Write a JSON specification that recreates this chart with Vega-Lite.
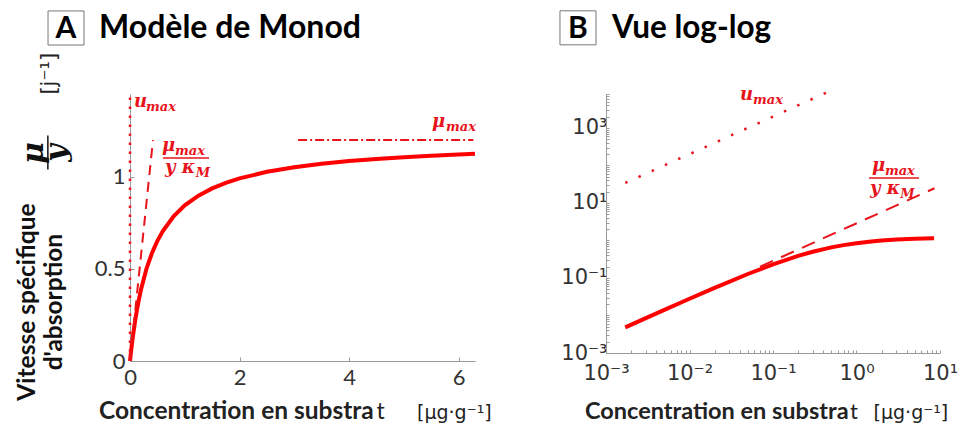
{
  "$schema": "https://vega.github.io/schema/vega-lite/v6.json",
  "padding": {"left": 14, "top": 10, "right": 0, "bottom": 0},
  "background": "white",
  "config": {"view": {"stroke": null}, "font": "Lato"},
  "bounds": "flush",
  "spacing": 131,
  "hconcat": [
    {
      "width": 345,
      "height": 267,
      "encoding": {
        "x": {"field": "x", "type": "quantitative", "scale": {"domain": [0, 6.3], "nice": false, "zero": false},
          "axis": {"title": null, "values": [0, 2, 4, 6], "format": "~g", "grid": false, "domainColor": "#9a9a9a", "tickColor": "#9a9a9a", "tickSize": -4, "labelPadding": 10, "labelFont": "Lato", "labelFontSize": 22, "labelColor": "#333333", "labelFlush": false, "labelOverlap": false}},
        "y": {"field": "y", "type": "quantitative", "scale": {"domain": [0, 1.45], "nice": false, "zero": false},
          "axis": {"title": null, "values": [0, 0.5, 1], "format": "~g", "grid": false, "domainColor": "#9a9a9a", "tickColor": "#9a9a9a", "tickSize": -4, "labelPadding": 9, "labelFont": "Lato", "labelFontSize": 22, "labelColor": "#333333", "labelFlush": false, "labelOverlap": false}}
      },
      "layer": [
        {"data": {"values": [{"x": 0, "y": 0}, {"x": 0.02, "y": 0.0545}, {"x": 0.05, "y": 0.1277}, {"x": 0.1, "y": 0.2308}, {"x": 0.15, "y": 0.3158}, {"x": 0.2, "y": 0.3871}, {"x": 0.3, "y": 0.5}, {"x": 0.4, "y": 0.5854}, {"x": 0.5, "y": 0.6522}, {"x": 0.6, "y": 0.7059}, {"x": 0.8, "y": 0.7869}, {"x": 1.0, "y": 0.8451}, {"x": 1.25, "y": 0.8982}, {"x": 1.5, "y": 0.9375}, {"x": 1.75, "y": 0.9677}, {"x": 2.0, "y": 0.9917}, {"x": 2.5, "y": 1.0274}, {"x": 3.0, "y": 1.0526}, {"x": 3.5, "y": 1.0714}, {"x": 4.0, "y": 1.086}, {"x": 4.5, "y": 1.0976}, {"x": 5.0, "y": 1.107}, {"x": 5.5, "y": 1.1149}, {"x": 6.0, "y": 1.1215}, {"x": 6.3, "y": 1.125}]},
          "mark": {"type": "line", "color": "#ff0000", "strokeWidth": 4}},
        {"data": {"values": [{"x": 0, "y": 0}, {"x": 0.42, "y": 1.2}]},
          "mark": {"type": "line", "color": "#e8141c", "strokeWidth": 2, "strokeDash": [10, 7]}},
        {"data": {"values": [{"x": 0, "y": 0}, {"x": 0.0000725, "y": 1.45}]},
          "mark": {"type": "line", "color": "#e8141c", "strokeWidth": 2.5, "strokeDash": [2.5, 6.5]}},
        {"data": {"values": [{"x": 3.07, "y": 1.2}, {"x": 6.27, "y": 1.2}]},
          "mark": {"type": "line", "color": "#e8141c", "strokeWidth": 2, "strokeDash": [9, 3, 2, 3]}},
        {"data": {"values": [{"x": 0.603, "x2": 1.443, "y": 1.103}]},
          "mark": {"type": "rule", "color": "#e8141c", "strokeWidth": 1.5},
          "encoding": {"x2": {"field": "x2"}}},
        {"data": {"values": [{"x": 0.073, "y": 1.38, "t": "u"}, {"x": 0.584, "y": 1.141, "t": "μ"}, {"x": 0.639, "y": 1.021, "t": "y κ"}, {"x": 5.515, "y": 1.271, "t": "μ"}]},
          "mark": {"type": "text", "align": "left", "baseline": "alphabetic", "font": "DejaVu Serif", "fontSize": 18, "fontWeight": "bold", "fontStyle": "italic", "color": "#e8141c"},
          "encoding": {"text": {"field": "t"}}},
        {"data": {"values": [{"x": 0.292, "y": 1.358, "t": "max"}, {"x": 0.822, "y": 1.119, "t": "max"}, {"x": 1.2, "y": 0.999, "t": "M"}, {"x": 5.771, "y": 1.249, "t": "max"}]},
          "mark": {"type": "text", "align": "left", "baseline": "alphabetic", "font": "DejaVu Serif", "fontSize": 13, "fontWeight": "bold", "fontStyle": "italic", "color": "#e8141c"},
          "encoding": {"text": {"field": "t"}}},
        {"data": {"values": [{"x": -1.497, "x2": -0.84, "y": 1.901, "y2": 1.716}]},
          "mark": {"type": "rect", "fill": "white", "stroke": "#777777", "strokeWidth": 1},
          "encoding": {"x2": {"field": "x2"}, "y2": {"field": "y2"}}},
        {"data": {"values": [{"x": -1.169, "y": 1.754, "t": "A"}]},
          "mark": {"type": "text", "align": "center", "baseline": "alphabetic", "fontSize": 30, "fontWeight": "bold", "color": "black"},
          "encoding": {"text": {"field": "t"}}},
        {"data": {"values": [{"x": -0.566, "y": 1.754, "t": "Modèle de Monod"}]},
          "mark": {"type": "text", "align": "left", "baseline": "alphabetic", "fontSize": 32, "fontWeight": "bold", "color": "black"},
          "encoding": {"text": {"field": "t"}}},
        {"data": {"values": [{"x": -0.566, "y": -0.315, "t": "Concentration en substra"}]},
          "mark": {"type": "text", "align": "left", "baseline": "alphabetic", "fontSize": 24.5, "fontWeight": "bold", "color": "#222222"},
          "encoding": {"text": {"field": "t"}}},
        {"data": {"values": [{"x": 4.5, "y": -0.315, "t": "t"}]},
          "mark": {"type": "text", "align": "left", "baseline": "alphabetic", "fontSize": 23, "color": "#222222"},
          "encoding": {"text": {"field": "t"}}},
        {"data": {"values": [{"x": 5.241, "y": -0.315, "t": "[μg·g⁻¹]"}]},
          "mark": {"type": "text", "align": "left", "baseline": "alphabetic", "font": "DejaVu Sans", "fontSize": 19, "color": "#222222"},
          "encoding": {"text": {"field": "t"}}},
        {"data": {"values": [{"x": -1.735, "y": 0.32, "t": "Vitesse spécifique"}, {"x": -1.242, "y": 0.32, "t": "d'absorption"}]},
          "mark": {"type": "text", "align": "center", "baseline": "alphabetic", "angle": 270, "fontSize": 24.5, "fontWeight": "bold", "color": "#111111"},
          "encoding": {"text": {"field": "t"}}},
        {"data": {"values": [{"x": -1.59, "y": 1.13, "t": "μ"}, {"x": -1.17, "y": 1.13, "t": "y"}]},
          "mark": {"type": "text", "align": "center", "baseline": "alphabetic", "angle": 270, "font": "DejaVu Serif", "fontSize": 30, "fontWeight": "bold", "fontStyle": "italic", "color": "#111111"},
          "encoding": {"text": {"field": "t"}}},
        {"data": {"values": [{"x": -1.5, "y": 1.225, "y2": 1.04}]},
          "mark": {"type": "rule", "color": "#111111", "strokeWidth": 1.5},
          "encoding": {"y2": {"field": "y2"}}},
        {"data": {"values": [{"x": -1.36, "y": 1.56, "t": "[j⁻¹]"}]},
          "mark": {"type": "text", "align": "center", "baseline": "alphabetic", "angle": 270, "font": "DejaVu Sans", "fontSize": 21, "color": "#222222"},
          "encoding": {"text": {"field": "t"}}}
      ]
    },
    {
      "width": 334,
      "height": 259,
      "encoding": {
        "x": {"field": "x", "type": "quantitative", "scale": {"type": "log", "domain": [0.001, 10], "nice": false},
          "axis": {"title": null, "values": [0.001, 0.002, 0.003, 0.004, 0.005, 0.006, 0.007, 0.008, 0.009, 0.01, 0.02, 0.03, 0.04, 0.05, 0.06, 0.07, 0.08, 0.09, 0.1, 0.2, 0.3, 0.4, 0.5, 0.6, 0.7, 0.8, 0.9, 1, 2, 3, 4, 5, 6, 7, 8, 9, 10],
            "labelExpr": "datum.value==0.001?'10⁻³':datum.value==0.01?'10⁻²':datum.value==0.1?'10⁻¹':datum.value==1?'10⁰':datum.value==10?'10¹':''",
            "grid": false, "domainColor": "#9a9a9a", "tickColor": "#9a9a9a", "tickSize": -3, "labelPadding": 12, "labelFont": "DejaVu Sans", "labelFontSize": 21, "labelColor": "#333333", "labelFlush": false, "labelOverlap": false}},
        "y": {"field": "y", "type": "quantitative", "scale": {"type": "log", "domain": [0.001, 8000], "nice": false},
          "axis": {"title": null, "values": [0.001, 0.002, 0.003, 0.004, 0.005, 0.006, 0.007, 0.008, 0.009, 0.01, 0.02, 0.03, 0.04, 0.05, 0.06, 0.07, 0.08, 0.09, 0.1, 0.2, 0.3, 0.4, 0.5, 0.6, 0.7, 0.8, 0.9, 1, 2, 3, 4, 5, 6, 7, 8, 9, 10, 20, 30, 40, 50, 60, 70, 80, 90, 100, 200, 300, 400, 500, 600, 700, 800, 900, 1000, 2000, 3000, 4000, 5000, 6000, 7000, 8000],
            "labelExpr": "datum.value==0.001?'10⁻³':datum.value==0.1?'10⁻¹':datum.value==10?'10¹':datum.value==1000?'10³':''",
            "grid": false, "domainColor": "#9a9a9a", "tickColor": "#9a9a9a", "tickSize": -3, "labelPadding": 2, "labelFont": "DejaVu Sans", "labelFontSize": 21, "labelColor": "#333333", "labelFlush": false, "labelOverlap": false}}
      },
      "layer": [
        {"data": {"values": [{"x": 0.0017, "y": 0.004837}, {"x": 0.003, "y": 0.008511}, {"x": 0.005, "y": 0.014118}, {"x": 0.01, "y": 0.027907}, {"x": 0.02, "y": 0.054545}, {"x": 0.05, "y": 0.12766}, {"x": 0.1, "y": 0.2308}, {"x": 0.2, "y": 0.3871}, {"x": 0.3, "y": 0.5}, {"x": 0.5, "y": 0.6522}, {"x": 0.7, "y": 0.75}, {"x": 1, "y": 0.8451}, {"x": 1.5, "y": 0.9375}, {"x": 2, "y": 0.9917}, {"x": 3, "y": 1.0526}, {"x": 5, "y": 1.107}, {"x": 8.5, "y": 1.1435}]},
          "mark": {"type": "line", "color": "#ff0000", "strokeWidth": 4}},
        {"data": {"values": [{"x": 0.07, "y": 0.2}, {"x": 8.6, "y": 24.57}]},
          "mark": {"type": "line", "color": "#e8141c", "strokeWidth": 2, "strokeDash": [14, 9]}},
        {"data": {"values": [{"x": 0.0017, "y": 34}, {"x": 0.48, "y": 9600}]},
          "mark": {"type": "line", "color": "#e8141c", "strokeWidth": 2.5, "strokeDash": [2.5, 12]}},
        {"data": {"values": [{"x": 1.413, "x2": 5.604, "y": 46.4}]},
          "mark": {"type": "rule", "color": "#e8141c", "strokeWidth": 1.5},
          "encoding": {"x2": {"field": "x2"}}},
        {"data": {"values": [{"x": 0.0403, "y": 5580, "t": "u"}, {"x": 1.533, "y": 71.3, "t": "μ"}, {"x": 1.451, "y": 17.38, "t": "y κ"}]},
          "mark": {"type": "text", "align": "left", "baseline": "alphabetic", "font": "DejaVu Serif", "fontSize": 18, "fontWeight": "bold", "fontStyle": "italic", "color": "#e8141c"},
          "encoding": {"text": {"field": "t"}}},
        {"data": {"values": [{"x": 0.0576, "y": 4365, "t": "max"}, {"x": 2.19, "y": 55.8, "t": "max"}, {"x": 3.35, "y": 13.6, "t": "M"}]},
          "mark": {"type": "text", "align": "left", "baseline": "alphabetic", "font": "DejaVu Serif", "fontSize": 13, "fontWeight": "bold", "fontStyle": "italic", "color": "#e8141c"},
          "encoding": {"text": {"field": "t"}}},
        {"data": {"values": [{"x": 0.000281, "x2": 0.000759, "y": 1318000, "y2": 163400}]},
          "mark": {"type": "rect", "fill": "white", "stroke": "#777777", "strokeWidth": 1},
          "encoding": {"x2": {"field": "x2"}, "y2": {"field": "y2"}}},
        {"data": {"values": [{"x": 0.000462, "y": 251200, "t": "B"}]},
          "mark": {"type": "text", "align": "center", "baseline": "alphabetic", "fontSize": 30, "fontWeight": "bold", "color": "black"},
          "encoding": {"text": {"field": "t"}}},
        {"data": {"values": [{"x": 0.00118, "y": 251200, "t": "Vue log-log"}]},
          "mark": {"type": "text", "align": "left", "baseline": "alphabetic", "fontSize": 31.5, "fontWeight": "bold", "color": "black"},
          "encoding": {"text": {"field": "t"}}},
        {"data": {"values": [{"x": 0.0005604, "y": 0.00001738, "t": "Concentration en substra"}]},
          "mark": {"type": "text", "align": "left", "baseline": "alphabetic", "fontSize": 23.5, "fontWeight": "bold", "color": "#222222"},
          "encoding": {"text": {"field": "t"}}},
        {"data": {"values": [{"x": 0.836, "y": 0.00001738, "t": "t"}]},
          "mark": {"type": "text", "align": "left", "baseline": "alphabetic", "fontSize": 22, "color": "#222222"},
          "encoding": {"text": {"field": "t"}}},
        {"data": {"values": [{"x": 1.6, "y": 0.00001738, "t": "[μg·g⁻¹]"}]},
          "mark": {"type": "text", "align": "left", "baseline": "alphabetic", "font": "DejaVu Sans", "fontSize": 19, "color": "#222222"},
          "encoding": {"text": {"field": "t"}}}
      ]
    }
  ]
}
